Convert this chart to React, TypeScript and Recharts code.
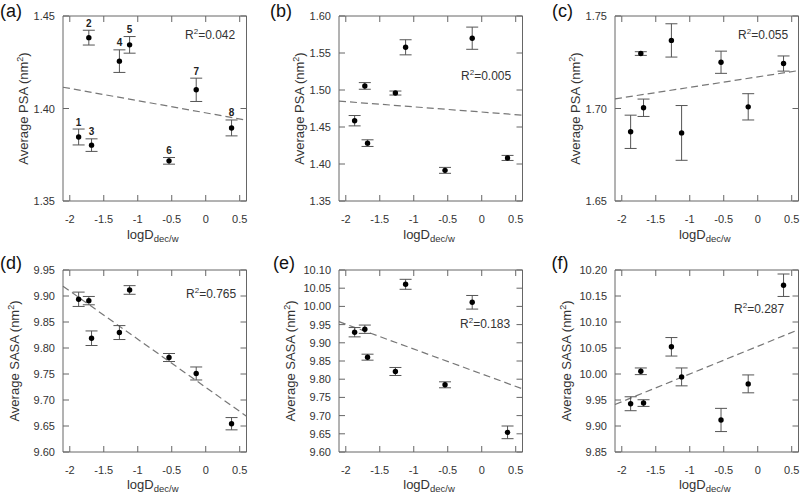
import React from 'react';
import { ScatterChart, Scatter, XAxis, YAxis, ErrorBar, ReferenceLine } from 'recharts';

// logD(dec/w) of the eight compounds (same in every panel)
const LOG_D = [-1.87, -1.72, -1.68, -1.27, -1.12, -0.54, -0.14, 0.38];
const POINT_NUMS = ['1', '2', '3', '4', '5', '6', '7', '8'];
const X_TICKS = [-2, -1.5, -1, -0.5, 0, 0.5];
const X_DOMAIN: [number, number] = [-2.1, 0.6];

// average PSA (nm^2) and its error
const PSA_A = [1.3846, 1.4383, 1.3802, 1.4256, 1.4344, 1.3717, 1.4101, 1.3895];
const PSA_A_ERR = [0.0043, 0.004, 0.0034, 0.0061, 0.0045, 0.0018, 0.0063, 0.0043];
const PSA_B = [1.4585, 1.5055, 1.4282, 1.4959, 1.5577, 1.3914, 1.57, 1.4082];
const PSA_B_ERR = [0.007, 0.0045, 0.0045, 0.0027, 0.0102, 0.004, 0.015, 0.0034];
const PSA_C = [1.6874, 1.7297, 1.7004, 1.7368, 1.6868, 1.725, 1.7009, 1.7243];
const PSA_C_ERR = [0.009, 0.001, 0.0047, 0.009, 0.0148, 0.006, 0.0071, 0.0041];

// average SASA (nm^2) and its error
const SASA_D = [9.8937, 9.8911, 9.8188, 9.8297, 9.9116, 9.7817, 9.751, 9.6544];
const SASA_D_ERR = [0.0138, 0.008, 0.014, 0.0134, 0.0083, 0.0077, 0.0125, 0.0118];
const SASA_E = [9.9291, 9.9373, 9.8605, 9.8212, 10.0607, 9.7846, 10.0113, 9.654];
const SASA_E_ERR = [0.0128, 0.0114, 0.0082, 0.011, 0.0137, 0.0082, 0.0187, 0.0174];
const SASA_F = [9.9428, 10.0052, 9.9441, 10.0523, 9.9944, 9.9116, 9.981, 10.1707];
const SASA_F_ERR = [0.0134, 0.0064, 0.0064, 0.0178, 0.0172, 0.0223, 0.0172, 0.0216];

// fitted line, value at left and right edge of the x range
const FIT_A = [1.4115, 1.3937];
const FIT_B = [1.485, 1.466];
const FIT_C = [1.7052, 1.7205];
const FIT_D = [9.9188, 9.6688];
const FIT_E = [9.958, 9.7735];
const FIT_F = [9.9414, 10.0852];

const TICKS_A = [1.35, 1.4, 1.45];
const TICKS_B = [1.35, 1.4, 1.45, 1.5, 1.55, 1.6];
const TICKS_C = [1.65, 1.7, 1.75];
const TICKS_D = [9.6, 9.65, 9.7, 9.75, 9.8, 9.85, 9.9, 9.95];
const TICKS_E = [9.6, 9.65, 9.7, 9.75, 9.8, 9.85, 9.9, 9.95, 10.0, 10.05, 10.1];
const TICKS_F = [9.85, 9.9, 9.95, 10.0, 10.05, 10.1, 10.15, 10.2];

const R2 = ['0.042', '0.005', '0.055', '0.765', '0.183', '0.287'];

const FONT = '"Liberation Sans", Arial, Helvetica, sans-serif';
const AXIS = '#666';
const TEXT = '#333';
const TICK_LEN = 6;

// layout
const CHART_W = 248;
const Y_AXIS_W = 63;
const RIGHT_PAD = 1.5;
const PLOT_W = CHART_W - Y_AXIS_W - RIGHT_PAD;
const COL_LEFT = [0, 276.3, 552];
const ROWS = [
  { top: 0, height: 250, bottom: 19, plotTop: 16, plotBottom: 201, titleOff: 35.5, titleY: 238.5 },
  { top: 254, height: 240, bottom: 12, plotTop: 270, plotBottom: 452, titleOff: 44, titleY: 488.5 },
];

const PANELS = [
  { tag: '(a)', qty: 'PSA', values: PSA_A, errs: PSA_A_ERR, fit: FIT_A, ticks: TICKS_A, r2: R2[0], col: 0, row: 0, numbered: true, r2At: [185, 39], tagAt: [0, 17] },
  { tag: '(b)', qty: 'PSA', values: PSA_B, errs: PSA_B_ERR, fit: FIT_B, ticks: TICKS_B, r2: R2[1], col: 1, row: 0, numbered: false, r2At: [461, 80], tagAt: [270, 17] },
  { tag: '(c)', qty: 'PSA', values: PSA_C, errs: PSA_C_ERR, fit: FIT_C, ticks: TICKS_C, r2: R2[2], col: 2, row: 0, numbered: false, r2At: [738, 39], tagAt: [552, 17] },
  { tag: '(d)', qty: 'SASA', values: SASA_D, errs: SASA_D_ERR, fit: FIT_D, ticks: TICKS_D, r2: R2[3], col: 0, row: 1, numbered: false, r2At: [186, 298], tagAt: [0, 268.5] },
  { tag: '(e)', qty: 'SASA', values: SASA_E, errs: SASA_E_ERR, fit: FIT_E, ticks: TICKS_E, r2: R2[4], col: 1, row: 1, numbered: false, r2At: [460, 328], tagAt: [273, 268.5] },
  { tag: '(f)', qty: 'SASA', values: SASA_F, errs: SASA_F_ERR, fit: FIT_F, ticks: TICKS_F, r2: R2[5], col: 2, row: 1, numbered: false, r2At: [734, 313], tagAt: [551.5, 268.5] },
];

const Dot = (props: any) => <circle cx={props.cx} cy={props.cy} r={2.7} fill="#000" />;

const NumLabel = (props: any) => (
  <text
    x={props.cx}
    y={props.cy - 3.5}
    textAnchor="middle"
    fontSize={10}
    fontWeight="bold"
    fill="#222"
    fontFamily={FONT}
  >
    {props.payload?.n}
  </text>
);

// x tick drawn on a vertical reference line: inner ticks top and bottom, label below
const xTickLabel = (text: string) => (props: any) => {
  const { x, y, height } = props.viewBox;
  const bottom = y + height;
  return (
    <g>
      <line x1={x} y1={bottom} x2={x} y2={bottom - TICK_LEN} stroke={AXIS} />
      <line x1={x} y1={y} x2={x} y2={y + TICK_LEN} stroke={AXIS} />
      <text x={x} y={bottom + 22} textAnchor="middle" fontSize={11} fill={TEXT} fontFamily={FONT}>
        {text}
      </text>
    </g>
  );
};

// y tick drawn on a horizontal reference line: inner ticks left and right, label left
const yTickLabel = (text: string) => (props: any) => {
  const { x, y, width } = props.viewBox;
  return (
    <g>
      <line x1={x} y1={y} x2={x + TICK_LEN} y2={y} stroke={AXIS} />
      <line x1={x + width} y1={y} x2={x + width - TICK_LEN} y2={y} stroke={AXIS} />
      <text x={x - 8} y={y + 4} textAnchor="end" fontSize={11} fill={TEXT} fontFamily={FONT}>
        {text}
      </text>
    </g>
  );
};

function Panel({ p }: { p: any }) {
  const row = ROWS[p.row];
  const data = LOG_D.map((x, i) => ({ x, y: p.values[i], err: p.errs[i] }));
  // tops of the error bars, used to hang the compound numbers
  const tops = LOG_D.map((x, i) => ({ x, y: p.values[i] + p.errs[i], n: POINT_NUMS[i] }));
  const domain = [p.ticks[0], p.ticks[p.ticks.length - 1]];

  return (
    <div style={{ position: 'absolute', left: COL_LEFT[p.col], top: row.top }}>
      <ScatterChart
        width={CHART_W}
        height={row.height}
        margin={{ top: 16, right: RIGHT_PAD, bottom: row.bottom, left: 0 }}
        style={{ fontFamily: FONT }}
      >
        <XAxis
          type="number"
          dataKey="x"
          domain={X_DOMAIN}
          ticks={X_TICKS}
          allowDataOverflow
          height={30}
          tick={false}
          tickLine={false}
          stroke={AXIS}
        />
        <YAxis
          type="number"
          dataKey="y"
          domain={domain}
          ticks={p.ticks}
          allowDataOverflow
          width={Y_AXIS_W}
          tick={false}
          tickLine={false}
          stroke={AXIS}
        />
        {/* top and right edges of the frame */}
        <ReferenceLine y={domain[1]} stroke={AXIS} />
        <ReferenceLine x={X_DOMAIN[1]} stroke={AXIS} />
        {/* tick marks and labels */}
        {X_TICKS.map((v) => (
          <ReferenceLine key={`x${v}`} x={v} stroke="none" label={xTickLabel(String(v))} />
        ))}
        {p.ticks.map((v: number) => (
          <ReferenceLine key={`y${v}`} y={v} stroke="none" label={yTickLabel(v.toFixed(2))} />
        ))}
        <ReferenceLine
          segment={[
            { x: X_DOMAIN[0], y: p.fit[0] },
            { x: X_DOMAIN[1], y: p.fit[1] },
          ]}
          stroke="#777"
          strokeWidth={1.2}
          strokeDasharray="7 4"
        />
        <Scatter data={data} isAnimationActive={false} shape={Dot}>
          <ErrorBar dataKey="err" direction="y" width={6} stroke="#555" strokeWidth={1} />
        </Scatter>
        {p.numbered && <Scatter data={tops} isAnimationActive={false} shape={NumLabel} />}
      </ScatterChart>
    </div>
  );
}

function Titles() {
  return (
    <svg
      width={800}
      height={494}
      style={{ position: 'absolute', left: 0, top: 0, pointerEvents: 'none' }}
      fontFamily={FONT}
    >
      {PANELS.map((p) => {
        const row = ROWS[p.row];
        const plotLeft = COL_LEFT[p.col] + Y_AXIS_W;
        const midX = plotLeft + PLOT_W / 2;
        const midY = (row.plotTop + row.plotBottom) / 2;
        const yx = plotLeft - row.titleOff;
        return (
          <g key={p.tag}>
            <text x={p.tagAt[0]} y={p.tagAt[1]} fontSize={18} fill="#111">
              {p.tag}
            </text>
            <text x={p.r2At[0]} y={p.r2At[1]} fontSize={12} fill={TEXT}>
              R<tspan dy={-5} fontSize={8}>2</tspan>
              <tspan dy={5}>={p.r2}</tspan>
            </text>
            <text x={midX - 2} y={row.titleY} fontSize={13} fill={TEXT} textAnchor="middle">
              logD<tspan dy={3} fontSize={9.5}>dec/w</tspan>
            </text>
            <text
              x={yx}
              y={midY}
              fontSize={13}
              fill={TEXT}
              textAnchor="middle"
              transform={`rotate(-90 ${yx} ${midY})`}
            >
              Average {p.qty} (nm<tspan dy={-5} fontSize={9}>2</tspan>
              <tspan dy={5}>)</tspan>
            </text>
          </g>
        );
      })}
    </svg>
  );
}

export default function App() {
  return (
    <div style={{ position: 'absolute', left: 0, top: 0, width: 800, height: 494, background: '#fff' }}>
      {PANELS.map((p) => (
        <Panel key={p.tag} p={p} />
      ))}
      <Titles />
    </div>
  );
}
